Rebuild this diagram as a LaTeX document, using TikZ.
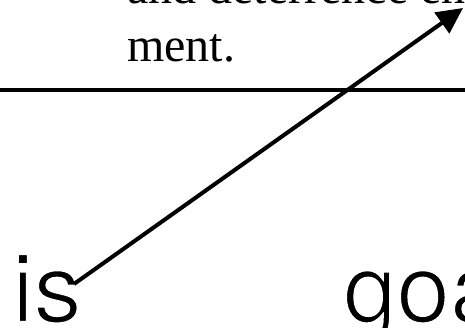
\documentclass[tikz,border=0pt]{standalone}
\usepackage{fontspec}
\setmainfont{Liberation Serif}
\newfontfamily\lightsans{TeX Gyre Heros}
\usetikzlibrary{arrows.meta}
\newcommand{\thinword}[1]{\special{pdf:literal direct 1 1 1 RG 2 w 2 Tr}#1\special{pdf:literal direct 0 Tr}}
\tikzset{
  serifline/.style={inner sep=0pt, anchor=base west, font=\fontsize{48}{55}\selectfont},
  bigword/.style={inner sep=0pt, anchor=base west, font=\lightsans\fontsize{96}{100}\selectfont},
  rule/.style={line width=4pt},
  pointer/.style={line width=4pt, -{Triangle[length=26pt,width=25pt]}}
}
\begin{document}
\begin{tikzpicture}[x=1pt,y=1pt]
\useasboundingbox (0,0) rectangle (465,328);
\node[serifline] (l1) at (127,324) {and deterrence enforce-};
\node[serifline] (l2) at (127,266) {ment.};
\coordinate (rl) at (0,238);
\coordinate (rr) at (465,238);
\draw[rule] (rl) -- (rr);
\node[bigword] (is) at (12,6) {\thinword{is}};
\node[bigword] (goa) at (343,6) {\thinword{goa}};
\coordinate (start) at (74,44);
\coordinate (tip) at (463,320);
\draw[pointer] (start) -- (tip);
\end{tikzpicture}
\end{document}
